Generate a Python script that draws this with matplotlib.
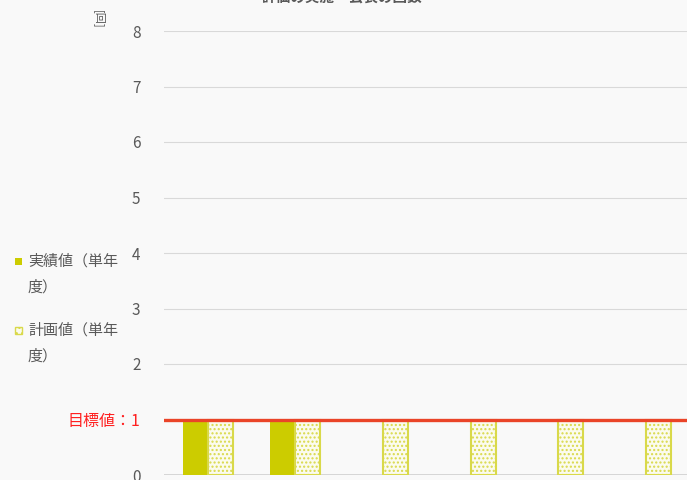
import matplotlib
matplotlib.use("Agg")
import matplotlib.pyplot as plt
from matplotlib.patches import Rectangle

plt.rcParams['font.family'] = ['Noto Sans CJK JP', 'DejaVu Sans']
plt.rcParams['hatch.linewidth'] = 1.0

categories = ["1", "2", "3", "4", "5", "6"]
actual = [1, 1, 0, 0, 0, 0]
planned = [1, 1, 1, 1, 1, 1]
target = 1
yticks = [0, 1, 2, 3, 4, 5, 6, 7, 8]
ytick_labels = ["0", "目標値：1", "2", "3", "4", "5", "6", "7", "8"]
title = "評価の実施・公表の回数"
legend_labels = ["実績値（単年\n度）", "計画値（単年\n度）"]

bg = "#F9F9F9"
olive = "#CCCC00"
gray = "#595959"
red = "#EA4428"

W, H = 687, 480
fig = plt.figure(figsize=(W / 100, H / 100), dpi=100, facecolor=bg)
ax = fig.add_axes([164 / W, 5 / H, 525.6 / W, 444 / H], facecolor=bg)

x = list(range(len(categories)))
bw = 0.285
ax.bar(x, actual, width=-bw, align='edge', color=olive, zorder=3)
ax.bar(x, planned, width=bw, align='edge', facecolor="#FBFBEE", edgecolor="#D9D94A",
       hatch='....', linewidth=1.5, zorder=3)

ax.axhline(target, color=red, lw=2.4, zorder=4)

ax.set_xlim(-0.5, len(categories) - 0.5)
ax.set_ylim(0, 8)
ax.set_yticks(yticks)
ax.set_yticklabels(ytick_labels)
ax.tick_params(axis='y', length=0, pad=17, labelsize=11, labelcolor=gray)
ax.tick_params(axis='x', length=0, labelbottom=False)
lbl = ax.get_yticklabels()[1]
lbl.set_color("#FF2020")
lbl.set_fontsize(11.5)
ax.grid(axis='y', color="#D9D9D9", lw=0.8, zorder=0)
for s in ax.spines.values():
    s.set_visible(False)
ax.axhline(0, color="#D0D0D0", lw=1.2, zorder=2)

fig.text(342 / W, 1 - 5 / H, title, ha='center', va='bottom', fontsize=10.5,
         fontweight='bold', color=gray)
fig.text(99 / W, 1 - 19 / H, "[回]", rotation=270, ha='center', va='center',
         fontsize=8, color=gray)

# legend
ys = [261, 330]
for i, (lab, yy) in enumerate(zip(legend_labels, ys)):
    if i == 0:
        r = Rectangle((15 / W, 1 - (yy + 4) / H), 7 / W, 7 / H, transform=fig.transFigure,
                      facecolor=olive, edgecolor='none')
    else:
        r = Rectangle((15 / W, 1 - (yy + 4) / H), 7 / W, 7 / H, transform=fig.transFigure,
                      facecolor="#FBFBEE", edgecolor="#D9D94A", hatch='...', lw=1)
    fig.add_artist(r)
    fig.text(28 / W, 1 - (yy - 7) / H, lab, ha='left', va='top', fontsize=10.8, color=gray,
             linespacing=2.05, transform=fig.transFigure)
fig.savefig("out.png", dpi=100, facecolor=bg)
